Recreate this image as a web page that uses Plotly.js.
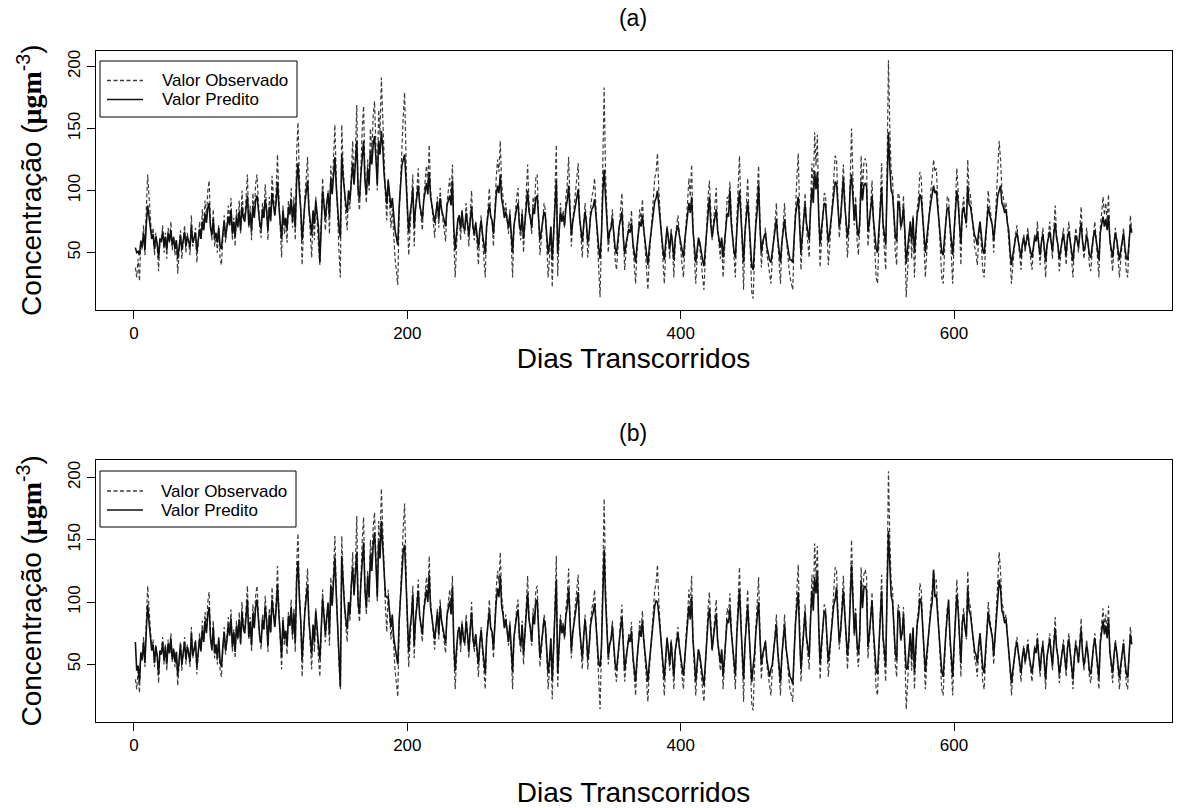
<!DOCTYPE html>
<html>
<head>
<meta charset="utf-8">
<script src="https://cdn.plot.ly/plotly-3.0.1.min.js"></script>
<style>html,body{margin:0;padding:0;background:#fff}#chart{width:1177px;height:808px}</style>
</head>
<body>
<div id="chart"></div>
<script>
// Observed daily concentration (same series in both panels)
const observed = [
38,30,45,27,60,52,72,48,85,113, 95,78,62,70,48,66,55,35,62,58,
72,50,66,45,70,58,75,52,63,48, 60,33,55,68,45,62,72,50,66,58,
48,80,55,62,70,42,58,75,60,85, 68,92,78,100,108,72,60,85,55,65,
50,72,45,40,62,80,58,70,88,75, 94,60,78,55,85,70,92,65,100,82,
75,95,113,70,88,60,98,80,105,113, 85,70,62,90,78,105,88,60,95,75,
112,90,80,100,129,95,70,46,88,65, 75,58,92,80,102,70,95,60,130,155,
110,85,40,72,95,110,127,85,68,46, 80,60,95,70,55,40,75,110,90,68,
85,100,65,120,98,130,153,110,75,50, 30,153,120,95,80,68,100,85,120,140,
105,130,169,95,84,120,150,168,110,90, 125,100,150,130,160,172,140,100,165,145,
191,160,120,95,76,110,90,70,85,60, 45,35,24,80,110,140,160,179,120,80,
48,75,90,113,55,85,100,118,90,80, 68,95,110,120,105,137,100,85,75,62,
80,95,70,102,85,75,65,59,90,100, 110,95,121,60,30,55,75,80,60,85,
70,65,90,75,55,80,100,70,60,75, 55,40,65,80,60,45,30,70,85,102,
80,75,55,90,110,125,115,140,105,95, 80,90,75,65,85,55,30,70,85,95,
102,70,60,85,50,75,100,121,90,80, 65,95,85,110,113,80,48,60,75,90,
84,60,30,45,70,22,60,100,137,31, 65,90,75,84,70,95,105,127,90,55,
75,88,100,110,122,80,60,46,70,90, 75,46,60,85,95,100,110,85,55,40,
14,60,120,183,115,80,50,65,70,85, 60,45,36,55,75,85,98,60,36,50,
65,75,70,84,55,40,25,50,70,85, 75,93,70,55,35,20,45,60,80,95,
110,115,130,100,80,60,40,25,50,72, 60,45,70,55,30,60,72,80,65,50,
40,30,55,75,90,110,95,121,70,50, 25,45,62,55,40,30,20,50,75,95,
108,80,60,75,90,102,70,55,45,60, 30,50,75,95,90,107,80,60,40,30,
75,100,128,90,50,20,65,85,110,80, 45,18,13,55,80,100,120,75,38,55,
62,70,50,40,30,25,45,60,75,90, 60,45,25,55,70,90,65,50,40,30,
25,20,60,90,110,130,75,36,60,80, 98,70,55,46,90,122,100,147,120,145,
80,38,60,85,98,96,70,40,55,75, 90,105,128,125,90,62,75,100,121,95,
70,46,65,120,150,110,72,95,60,48, 70,128,100,122,126,120,55,70,90,108,
75,50,30,25,60,100,122,70,50,36, 120,205,150,115,110,70,50,40,98,95,
68,75,96,60,14,35,55,75,45,80, 30,60,85,95,115,110,80,55,30,50,
70,85,100,110,125,115,118,95,70,50, 30,25,55,75,95,95,70,45,25,60,
90,118,100,75,40,85,95,80,70,125, 100,96,80,65,55,50,40,60,75,55,
36,30,55,75,100,88,80,72,50,70, 90,110,140,125,100,95,85,90,70,60,
45,25,40,55,65,72,60,48,36,55, 65,50,60,70,55,45,36,50,65,60,
75,55,40,60,70,50,30,55,65,75, 60,45,70,88,65,55,35,50,60,70,
55,40,65,75,60,45,30,55,70,62, 50,70,87,60,45,55,70,58,40,35,
55,65,75,60,45,30,70,85,95,80, 90,75,97,60,45,35,55,70,60,40,
30,45,60,70,50,35,30,55,80,68
];

// Predicted values, panel (a)
const predictedA = [
54,50,51,48,59,55,66,52,73,88, 79,70,61,65,53,63,57,46,61,59,
67,55,63,52,66,59,68,56,62,53, 60,45,57,64,52,61,67,55,63,59,
54,72,58,62,66,51,60,69,61,75, 68,81,74,86,90,70,64,77,61,66,
58,70,55,53,65,75,62,69,79,72, 84,65,75,63,79,71,83,68,87,78,
75,86,96,72,82,67,88,78,92,96, 82,74,69,85,78,93,84,68,87,76,
98,86,80,91,107,88,74,61,84,72, 78,69,87,81,93,75,89,70,108,122,
99,85,60,78,90,99,108,85,76,64, 84,73,92,78,70,42,81,100,89,77,
90,98,79,109,97,114,127,103,84,70, 62,129,111,97,89,82,100,92,111,122,
105,119,140,100,93,113,130,140,108,97, 118,105,132,121,137,144,126,105,140,129,
148,135,113,100,89,108,97,86,94,80, 68,62,56,87,103,120,125,129,109,87,
66,81,89,102,70,86,95,104,89,84, 77,92,100,106,97,115,95,86,81,74,
82,91,77,94,85,80,74,71,88,93, 96,88,108,69,52,66,77,80,69,83,
71,68,82,74,63,76,87,71,65,74, 63,54,68,76,65,57,49,71,79,89,
79,76,65,85,96,104,98,113,93,87, 78,83,75,70,81,64,50,72,81,86,
90,72,67,81,61,75,89,100,83,78, 70,86,81,94,96,78,60,67,75,83,
79,65,49,57,71,44,65,87,108,49, 70,83,75,80,72,86,92,104,83,64,
75,82,89,94,101,78,67,59,72,83, 74,58,65,79,85,87,93,79,63,54,
45,64,98,117,95,76,59,67,70,78, 62,54,49,60,71,76,83,62,49,57,
64,69,66,74,58,50,42,55,66,75, 71,80,68,60,49,40,54,62,73,82,
91,94,100,86,75,64,53,44,58,70, 61,53,66,58,44,61,68,72,64,57,
51,46,60,71,79,90,82,95,68,57, 42,52,62,58,50,44,39,55,69,80,
95,73,62,71,79,85,68,60,54,62, 46,57,71,82,79,100,73,62,51,46,
72,86,100,80,58,42,66,77,91,75, 54,39,36,59,73,84,105,71,50,59,
62,66,55,50,44,42,52,61,69,77, 61,53,42,58,66,77,64,55,50,44,
44,42,64,80,88,95,72,50,64,75, 89,74,65,60,85,102,90,116,101,115,
80,57,69,83,90,89,75,58,66,77, 86,95,107,106,86,71,78,92,110,89,
75,62,72,103,113,97,76,89,70,63, 75,107,92,104,106,103,67,75,86,96,
77,64,53,50,69,91,103,74,64,56, 103,147,119,100,97,75,64,59,91,89,
71,75,87,67,41,53,64,75,59,78, 50,67,81,86,97,94,78,64,50,61,
74,82,90,96,104,98,100,87,74,63, 50,48,64,75,86,86,72,58,48,67,
85,100,90,76,57,82,87,79,74,104, 89,87,78,70,64,61,56,67,75,64,
52,49,62,74,87,81,76,72,60,71, 85,96,100,104,90,87,82,85,74,68,
51,40,48,56,62,66,59,53,46,57, 62,54,59,65,56,51,46,54,62,59,
67,56,48,59,65,54,43,56,62,67, 59,51,65,74,62,56,45,54,59,65,
56,48,62,67,59,51,43,56,64,60, 54,65,74,59,51,56,64,58,48,46,
57,63,68,60,52,44,66,74,79,71, 77,68,80,60,52,46,57,66,60,49,
44,52,60,66,54,46,44,58,72,66
];

// Predicted values, panel (b)
const predictedB = [
68,45,49,36,59,54,68,51,77,98, 84,72,61,66,51,64,57,42,61,58,
68,53,64,50,67,59,71,54,62,52, 60,41,57,66,50,61,68,54,64,59,
52,75,57,62,68,48,59,71,61,78, 68,85,75,90,96,71,62,80,59,66,
55,71,52,48,64,76,61,69,82,73, 87,64,76,60,81,71,86,67,92,79,
75,89,102,72,84,65,91,79,96,102, 83,72,67,86,78,97,85,65,90,76,
102,87,80,94,114,91,73,56,86,70, 77,65,89,81,96,74,91,67,116,133,
103,85,54,76,92,103,114,85,73,58, 82,68,93,75,65,54,79,103,89,74,
88,99,74,113,97,120,136,106,81,64, 32,137,114,97,86,78,100,90,114,128,
106,123,140,99,91,116,137,148,110,95, 121,104,139,125,146,156,132,104,149,135,
165,144,116,105,104,104,92,80,90,72, 64,55,50,85,106,127,141,146,112,85,
60,79,89,106,65,86,96,109,89,82, 74,93,103,110,100,122,96,86,79,70,
81,92,74,97,85,78,71,67,89,96, 101,90,112,66,45,62,76,80,66,83,
71,67,85,74,60,78,92,71,64,74, 60,50,67,78,64,53,43,71,81,93,
79,76,62,86,100,111,104,121,97,90, 79,86,75,68,82,61,44,72,82,89,
94,72,65,82,58,75,93,107,86,79, 68,89,82,100,102,79,56,65,75,86,
80,64,43,53,71,37,64,92,118,43, 68,86,75,81,72,89,96,111,86,61,
75,84,93,100,108,79,65,55,72,86, 74,54,64,81,88,92,99,81,60,50,
48,63,105,142,102,77,56,66,70,81, 62,51,45,58,72,79,88,62,45,55,
64,71,68,77,57,47,36,54,68,78, 72,85,69,58,44,36,51,62,76,86,
97,101,100,90,76,62,48,38,55,71, 61,50,68,57,40,61,69,75,64,54,
48,41,58,72,83,97,86,104,69,55, 36,50,62,57,47,40,33,54,71,85,
95,76,62,72,83,91,69,58,51,62, 41,55,72,86,83,95,76,62,48,41,
73,90,110,83,55,38,66,80,97,76, 51,36,48,58,76,90,100,72,50,58,
62,68,54,47,40,46,50,61,71,82, 61,50,36,57,68,82,64,54,47,40,
38,34,62,83,97,108,73,46,62,76, 92,72,62,56,86,109,93,120,107,125,
80,51,66,84,93,91,73,52,62,76, 88,98,102,112,88,68,77,95,109,91,
74,57,70,109,130,102,75,91,67,58, 74,117,95,111,113,109,64,74,88,101,
77,59,45,42,66,94,109,73,59,49, 109,157,130,105,100,74,60,53,93,91,
70,75,90,65,46,47,61,75,54,79, 44,65,82,89,103,100,79,61,44,58,
72,83,93,100,126,104,106,90,72,58, 44,40,61,75,89,102,72,54,40,65,
86,106,93,76,51,83,90,79,72,111, 93,90,79,68,61,58,51,65,75,61,
47,43,60,74,92,83,78,72,57,71, 86,100,118,111,93,90,83,86,72,65,
49,35,45,56,63,68,59,51,43,56, 63,52,59,66,56,49,43,52,63,59,
70,56,45,59,66,52,38,56,63,70, 59,49,66,79,63,56,42,52,59,66,
56,45,63,70,59,49,38,56,66,61, 52,66,78,59,49,56,66,58,45,42,
57,64,71,60,50,39,67,78,85,74, 81,71,86,60,50,43,57,67,60,46,
39,50,60,67,53,43,39,57,74,66
];

const days = observed.map((_, i) => i + 1);
const xTickVals = [0, 200, 400, 600];
const yTickVals = [50, 100, 150, 200];
const panelTitles = ['(a)', '(b)'];
const seriesNames = ['Valor Observado', 'Valor Predito'];
const xTitle = 'Dias Transcorridos';
const yTitle = 'Concentração (<b><span style="font-family:Liberation Serif,Times New Roman,serif">μgm</span></b><sup>-3</sup>)';

const W = 1177, H = 808;
const px = v => v / W;          // pixel -> paper x
const py = v => 1 - v / H;      // pixel -> paper y
const obsColor = '#3c3c3c', predColor = '#111111';
const obsDash = '4px,2.5px';
const obsStyle = {color: obsColor, width: 1.2, dash: obsDash};
const predStyle = {color: predColor, width: 1.6};

const traces = [
  {x: days, y: observed, type: 'scatter', mode: 'lines', name: seriesNames[0], line: obsStyle, xaxis: 'x', yaxis: 'y', showlegend: false},
  {x: days, y: predictedA, type: 'scatter', mode: 'lines', name: seriesNames[1], line: predStyle, xaxis: 'x', yaxis: 'y', showlegend: false},
  {x: days, y: observed, type: 'scatter', mode: 'lines', name: seriesNames[0], line: obsStyle, xaxis: 'x2', yaxis: 'y2', showlegend: false},
  {x: days, y: predictedB, type: 'scatter', mode: 'lines', name: seriesNames[1], line: predStyle, xaxis: 'x2', yaxis: 'y2', showlegend: false}
];

const xDomain = [px(95.5), px(1171.6)];
function xAxis(anchor, standoff) {
  return {
    domain: xDomain, anchor: anchor, range: [-28.16, 759.16],
    tickmode: 'array', tickvals: xTickVals, ticks: 'outside', ticklen: 8, tickwidth: 1, tickcolor: '#000',
    showline: true, mirror: true, linecolor: '#000', linewidth: 1,
    showgrid: false, zeroline: false,
    tickfont: {size: 17, color: '#000'},
    title: {text: xTitle, font: {size: 28, color: '#000'}, standoff: standoff},
    automargin: false
  };
}
function yAxis(anchor, dom, range) {
  return {
    domain: dom, anchor: anchor, range: range,
    tickmode: 'array', tickvals: yTickVals, ticks: 'outside', ticklen: 8, tickwidth: 1, tickcolor: '#000',
    tickangle: -90,
    showline: true, mirror: true, linecolor: '#000', linewidth: 1,
    showgrid: false, zeroline: false,
    tickfont: {size: 17, color: '#000'},
    title: {text: yTitle, font: {size: 28, color: '#000'}, standoff: 14},
    automargin: false
  };
}

// Legend boxes drawn as shapes + text (pixel geometry)
function legendParts(box, rows, textX) {
  const shapes = [
    {type: 'rect', xref: 'paper', yref: 'paper', x0: px(box[0]), x1: px(box[2]), y0: py(box[3]), y1: py(box[1]),
     fillcolor: '#fff', line: {color: '#000', width: 1}, layer: 'above'},
    {type: 'line', xref: 'paper', yref: 'paper', x0: px(box[0] + 7), x1: px(box[0] + 43), y0: py(rows[0]), y1: py(rows[0]),
     line: {color: obsColor, width: 1.3, dash: obsDash}, layer: 'above'},
    {type: 'line', xref: 'paper', yref: 'paper', x0: px(box[0] + 7), x1: px(box[0] + 43), y0: py(rows[1]), y1: py(rows[1]),
     line: {color: predColor, width: 1.6}, layer: 'above'}
  ];
  const annots = seriesNames.map((n, i) => ({
    text: n, xref: 'paper', yref: 'paper', x: px(textX), y: py(rows[i]), xanchor: 'left', yanchor: 'middle',
    showarrow: false, font: {size: 17, color: '#000'}
  }));
  return {shapes, annots};
}
const legA = legendParts([100, 61, 297, 117], [80.5, 99.5], 160);
const legB = legendParts([100, 471, 296, 527], [491, 510], 159);

const layout = {
  width: W, height: H,
  margin: {l: 0, r: 0, t: 0, b: 0},
  paper_bgcolor: '#fff', plot_bgcolor: '#fff',
  font: {family: 'Liberation Sans, Arial, Helvetica, sans-serif', color: '#000'},
  showlegend: false,
  title: {text: panelTitles[0], font: {size: 23, color: '#000'}, x: px(633), xanchor: 'center', y: py(18), yanchor: 'middle'},
  xaxis: xAxis('y', 6),
  yaxis: yAxis('x', [py(309.7), py(50.7)], [4, 212.7]),
  xaxis2: xAxis('y2', 28),
  yaxis2: yAxis('x2', [py(721.7), py(460)], [4, 214]),
  shapes: legA.shapes.concat(legB.shapes),
  annotations: [
    {text: panelTitles[1], xref: 'paper', yref: 'paper', x: px(633), y: py(433), xanchor: 'center', yanchor: 'middle', showarrow: false, font: {size: 23, color: '#000'}}
  ].concat(legA.annots, legB.annots)
};

Plotly.newPlot('chart', traces, layout, {displayModeBar: false, staticPlot: true});
</script>
</body>
</html>
